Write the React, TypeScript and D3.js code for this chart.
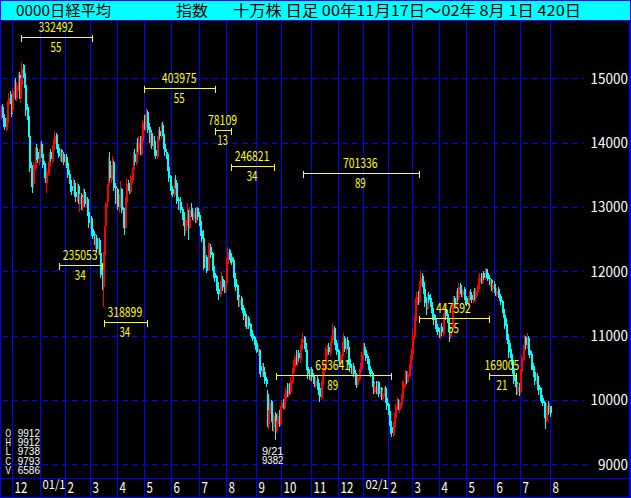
import React from 'react';
import * as d3 from 'd3';

const W = 631;
const H = 498;

// daily candles, 00/11/17 .. 02/08/01 (420 days)
const opens = [
14400,14550,14450,14380,14200,14300,14580,14750,14620,14500,
14780,14920,14700,14880,15050,14700,14900,15200,15080,14900,
14550,14420,14100,13650,13450,13350,13600,13900,13850,13700,
13820,13980,13820,13680,13520,13380,13520,13620,13850,13720,
13880,13980,14120,13980,13920,13780,13880,13720,13820,13680,
13780,13680,13520,13420,13330,13220,13380,13230,13120,13320,
13050,13180,12980,13080,13230,13020,13120,12920,12700,12830,
12650,12580,12400,12520,12320,12480,12280,12000,11750,12250,
12700,13080,13320,13720,13420,13580,13700,13320,13100,13280,
12980,13120,13280,12980,12720,12680,13080,13380,13320,13230,
13420,13580,13820,13680,13980,13880,14050,13820,14020,14350,
14220,14380,14480,14250,14020,14150,13930,14030,13880,13780,
14020,14180,14080,14280,14130,13980,13860,13820,13620,13480,
13330,13280,13180,13420,13380,13120,12980,13080,12970,12920,
12780,12620,12780,12920,12680,12980,12920,12830,12930,12780,
12980,12880,12780,12630,12520,12280,12080,12230,12020,12320,
12380,12280,12080,11980,11930,11830,11730,11630,11780,11880,
11780,11680,11820,12120,12330,12270,12230,12180,11980,11880,
11780,11630,11480,11580,11480,11430,11330,11230,11120,11280,
11180,11080,11030,10980,10930,10880,10720,10780,10530,10420,
10520,10430,10330,10100,9620,9780,9980,9720,9580,9780,
9520,9620,9780,9630,9870,9980,9880,10020,10180,10080,
10230,10120,10280,10430,10520,10680,10580,10730,10620,10780,
10880,10980,10880,10780,10520,10430,10320,10480,10380,10330,
10220,10330,10230,10180,10030,10230,10380,10480,10680,10730,
10830,10720,10880,10930,11120,10930,10880,10780,10680,10580,
10680,10830,10970,10780,10930,10830,10630,10530,10430,10530,
10420,10330,10230,10330,10430,10480,10680,10830,10780,10680,
10630,10530,10480,10420,10280,10130,10230,10120,10280,10080,
10180,10020,10080,10180,10030,9930,9830,9680,9580,9450,
9580,9720,9880,9980,9850,9920,10020,10180,10230,10380,
10280,10380,10480,10620,10720,10980,11230,11480,11630,11530,
11780,11930,11830,11720,11530,11420,11630,11580,11520,11430,
11330,11280,11180,11130,11080,10980,11130,11030,11280,11420,
11330,11280,11130,10980,11080,11430,11580,11480,11680,11580,
11780,11720,11630,11730,11620,11580,11480,11560,11680,11630,
11520,11680,11580,11680,11720,11830,11930,11830,11980,11880,
12030,11970,11900,11800,11870,11720,11800,11720,11630,11720,
11650,11620,11540,11420,11320,11180,11020,10930,10780,10720,
10620,10480,10330,10280,10120,10230,10120,10430,10620,10780,
10980,10830,10970,10780,10720,10580,10530,10430,10280,10380,
10230,10180,10080,10030,9970,9780,9680,9920,9830,9912,
];

const highs = [
14580,14600,14500,14430,14400,14650,14770,14800,14680,14850,
14980,15000,14950,15080,15100,15000,15260,15230,15150,14950,
14600,14460,14150,13700,13500,13700,13930,13980,13920,13900,
14000,14020,13860,13720,13570,13600,13700,13850,13900,13950,
14060,14180,14150,14000,13960,13900,13900,13850,13860,13800,
13820,13700,13570,13450,13380,13450,13420,13280,13390,13350,
13200,13220,13150,13300,13280,13150,13150,12960,12830,12860,
12700,12620,12560,12560,12500,12520,12300,12070,12300,12700,
13080,13350,13780,13850,13650,13800,13720,13380,13300,13300,
13200,13400,13300,13000,12800,13150,13450,13420,13380,13500,
13600,13850,13900,14000,14070,14110,14100,14100,14350,14430,
14450,14540,14500,14300,14170,14200,14100,14100,13950,14100,
14200,14250,14300,14320,14170,14020,13900,13850,13680,13500,
13420,13330,13450,13500,13420,13150,13100,13150,13000,12960,
12820,12850,13060,12950,13000,13060,12980,12950,12980,13000,
13000,12920,12800,12650,12640,12300,12400,12260,12440,12440,
12420,12300,12100,12000,11950,11910,11780,11850,11990,11920,
11860,11850,12200,12380,12350,12300,12280,12200,12020,11920,
11800,11680,11600,11620,11520,11450,11380,11260,11300,11300,
11200,11100,11050,10990,10980,10910,10850,10800,10600,10570,
10570,10460,10360,10150,9850,10020,10000,9760,9800,9820,
9680,9800,9840,9900,10000,10020,10100,10200,10260,10250,
10260,10350,10500,10620,10700,10780,10750,10780,10850,10950,
11040,11000,10980,10820,10560,10480,10510,10510,10420,10390,
10350,10380,10280,10260,10300,10450,10550,10820,10800,10850,
10880,10900,11000,11180,11150,10980,10920,10800,10720,10750,
10900,11040,11000,10950,10980,10880,10680,10560,10550,10570,
10460,10380,10400,10480,10570,10750,10880,10880,10800,10720,
10650,10570,10520,10450,10310,10260,10300,10300,10300,10200,
10200,10150,10200,10210,10060,9960,9850,9720,9620,9650,
9800,9940,10050,10020,10000,10100,10300,10300,10460,10450,
10450,10560,10700,10800,11100,11300,11590,11680,11700,11850,
12020,11980,11880,11760,11600,11640,11680,11650,11560,11450,
11370,11320,11220,11180,11120,11150,11200,11350,11500,11450,
11400,11300,11160,11100,11480,11620,11620,11700,11740,11820,
11820,11760,11730,11760,11650,11600,11620,11700,11720,11680,
11700,11740,11740,11790,11900,11970,11970,11970,12000,12050,
12040,12000,11950,11880,11880,11820,11850,11760,11740,11760,
11680,11650,11560,11470,11350,11270,11050,10950,10890,10800,
10650,10500,10390,10320,10250,10260,10480,10700,10850,11010,
11000,11040,11000,10820,10760,10620,10560,10460,10400,10420,
10280,10200,10120,10060,9990,9800,9950,9990,9950,9912,
];

const lows = [
14350,14380,14250,14190,14180,14280,14550,14600,14400,14460,
14700,14660,14650,14800,14680,14620,14880,15000,14850,14420,
14350,14090,13550,13310,13220,13300,13580,13730,13680,13650,
13780,13760,13600,13450,13370,13220,13480,13600,13700,13680,
13840,13950,13900,13840,13760,13720,13700,13680,13650,13630,
13600,13450,13350,13230,13180,13180,13150,13070,13080,13050,
12920,12950,12930,13050,13000,12980,12860,12670,12650,12550,
12500,12410,12350,12300,12250,12250,11900,11710,11450,12140,
12650,13000,13290,13400,13380,13520,13250,13050,13050,12950,
12900,13080,12900,12680,12560,12650,13070,13250,13200,13200,
13380,13550,13650,13650,13850,13820,13810,13800,13990,14200,
14180,14350,14150,14000,13930,13900,13880,13800,13750,13750,
14000,14050,14050,14100,13900,13800,13750,13560,13390,13250,
13180,13150,13150,13300,13050,12950,12950,12900,12800,12700,
12550,12580,12700,12490,12650,12850,12800,12780,12750,12750,
12800,12700,12550,12450,12020,12050,12050,11970,12000,12220,
12200,12000,11900,11830,11700,11650,11550,11600,11750,11700,
11660,11660,11800,12070,12180,12130,12100,11900,11760,11700,
11550,11450,11450,11400,11350,11250,11130,11100,11100,11100,
11000,10960,10920,10850,10780,10730,10680,10400,10360,10360,
10350,10250,10200,9580,9550,9720,9650,9520,9500,9382,
9480,9560,9580,9600,9820,9860,9850,9990,10050,10050,
10100,10080,10250,10400,10480,10550,10510,10600,10580,10750,
10820,10800,10750,10470,10320,10310,10280,10300,10250,10200,
10190,10150,10080,9970,10000,10200,10320,10450,10660,10700,
10700,10680,10820,10900,10850,10770,10700,10600,10550,10540,
10620,10800,10750,10720,10800,10550,10440,10400,10390,10360,
10240,10190,10200,10300,10380,10450,10620,10700,10600,10560,
10460,10410,10350,10200,10100,10100,10100,10080,10050,10040,
10000,9990,10050,9960,9850,9760,9600,9470,9420,9430,
9550,9700,9850,9850,9800,9880,9990,10150,10200,10250,
10260,10350,10450,10580,10700,10930,11200,11450,11480,11500,
11740,11750,11650,11450,11320,11400,11500,11450,11350,11250,
11170,11100,11050,11010,10960,10950,11000,11000,11250,11250,
11200,11050,10900,10950,11050,11400,11460,11450,11520,11550,
11650,11600,11580,11560,11480,11460,11460,11520,11550,11500,
11500,11560,11540,11620,11680,11800,11800,11800,11870,11860,
11900,11850,11780,11760,11700,11660,11660,11620,11600,11580,
11540,11480,11350,11270,11100,10930,10870,10650,10650,10550,
10400,10250,10200,10080,10080,10060,10100,10400,10600,10700,
10800,10800,10700,10650,10460,10460,10360,10230,10250,10150,
10080,9990,9960,9900,9720,9550,9650,9760,9800,9738,
];

const closes = [
14500,14420,14300,14250,14350,14600,14700,14650,14450,14800,
14900,14750,14900,15000,14750,14950,15150,15050,14950,14500,
14400,14150,13600,13400,13300,13650,13850,13800,13750,13850,
13950,13800,13650,13500,13400,13550,13650,13800,13750,13900,
14000,14100,13950,13900,13800,13850,13750,13800,13700,13750,
13650,13500,13400,13300,13250,13350,13200,13150,13300,13100,
13150,13000,13100,13200,13050,13100,12900,12750,12800,12600,
12550,12450,12500,12350,12450,12300,11950,11800,12250,12650,
13050,13300,13700,13450,13600,13750,13300,13150,13250,13000,
13150,13300,12950,12700,12650,13100,13350,13300,13250,13450,
13550,13800,13700,13950,13900,14000,13850,14050,14300,14250,
14400,14500,14200,14050,14100,13950,14000,13850,13800,14050,
14150,14100,14250,14150,13950,13850,13800,13600,13450,13300,
13250,13200,13400,13350,13100,13000,13050,12950,12900,12750,
12650,12800,12900,12700,12950,12900,12850,12900,12800,12950,
12850,12750,12600,12500,12250,12100,12200,12000,12300,12350,
12250,12050,11950,11900,11800,11700,11650,11800,11850,11750,
11700,11800,12150,12300,12250,12200,12150,11950,11850,11750,
11600,11500,11550,11450,11400,11300,11200,11150,11250,11150,
11050,11000,10950,10900,10850,10750,10800,10500,10450,10500,
10400,10300,10250,9650,9800,9950,9700,9600,9750,9550,
9600,9750,9650,9850,9950,9900,10050,10150,10100,10200,
10150,10300,10450,10550,10650,10600,10700,10650,10800,10900,
10950,10850,10800,10500,10400,10350,10450,10350,10300,10250,
10300,10200,10150,10050,10250,10400,10500,10700,10750,10800,
10750,10850,10950,11100,10900,10850,10750,10650,10600,10700,
10850,10950,10800,10900,10850,10600,10500,10450,10500,10400,
10300,10250,10350,10450,10500,10700,10800,10750,10650,10600,
10500,10450,10400,10250,10150,10200,10150,10250,10100,10150,
10050,10100,10150,10000,9900,9800,9650,9550,9480,9600,
9750,9900,9950,9880,9950,10050,10200,10250,10350,10300,
10400,10500,10650,10750,11000,11250,11500,11600,11550,11800,
11900,11800,11700,11500,11450,11600,11550,11500,11400,11300,
11250,11150,11100,11050,11000,11100,11050,11300,11400,11300,
11250,11100,11000,11050,11450,11550,11500,11650,11600,11750,
11700,11650,11700,11600,11550,11500,11580,11650,11600,11550,
11650,11600,11700,11750,11850,11900,11850,11950,11900,12000,
11950,11880,11820,11850,11750,11780,11700,11650,11700,11620,
11600,11520,11400,11300,11150,11000,10900,10750,10700,10600,
10450,10300,10250,10150,10200,10100,10450,10650,10800,10950,
10850,10950,10750,10700,10550,10500,10400,10300,10350,10200,
10150,10050,10000,9950,9800,9700,9900,9850,9910,9793,
];

const lastVolume = 6586;
const lowDateLabel = '9/21';
const ohlcKeys = ['O', 'H', 'L', 'C', 'V'];

const priceTicks = [15000, 14000, 13000, 12000, 11000, 10000, 9000];
const monthStarts = [9, 30, 49, 68, 89, 109, 130, 151, 172, 195, 214, 237, 257, 276, 295, 314, 334, 355, 376, 396, 419];
const monthLabels = ['12', '01/1', '2', '3', '4', '5', '6', '7', '8', '9', '10', '11', '12', '02/1', '2', '3', '4', '5', '6', '7', '8'];

// Fibonacci time spans: start day, length in days, price level, summed volume
const spanStarts = [16, 45, 79, 110, 164, 176, 210, 231, 319, 373];
const spanDays = [55, 34, 34, 55, 13, 34, 89, 89, 55, 21];
const spanLevels = [15640, 12100, 11210, 14845, 14195, 13635, 10385, 13525, 11270, 10390];
const spanVolumes = [332492, 235053, 318899, 403975, 78109, 246821, 653641, 701336, 447592, 169005];

const titleParts = ['0000日経平均', '指数', '十万株 日足 00年11月17日～02年 8月 1日 420日'];

const BLUE = '#0000FF';
const CYAN = '#00FFFF';
const RED = '#FF0000';
const YELLOW = '#FFFF00';
const FONT = "'Noto Sans CJK JP', 'DejaVu Sans', sans-serif";
const SMALL = "'Liberation Sans', 'DejaVu Sans', sans-serif";

function T(props: { x: number; y: number; s: string; size: number; w?: number; anchor?: string; fill: string; family?: string }) {
  const { x, y, s, size, w, anchor, fill, family } = props;
  return (
    <text
      x={x}
      y={y}
      fontSize={size}
      fontFamily={family || FONT}
      fill={fill}
      textAnchor={anchor || 'start'}
      textLength={w}
      lengthAdjust={w ? 'spacingAndGlyphs' : undefined}
    >
      {s}
    </text>
  );
}

export default function App() {
  const n = closes.length;
  const x = d3.scaleLinear().domain([0, n - 1]).range([0.5, 550.2]);
  const y = d3.scaleLinear().domain([9000, 15000]).range([464.3, 78.3]);

  const last = n - 1;
  const minIdx = d3.minIndex(lows);
  const ohlcVals = [opens[last], highs[last], lows[last], closes[last], lastVolume];

  const labelLeft = (s: string) => 628 - s.length * 7.5;

  return (
    <svg
      width={W}
      height={H}
      style={{ position: 'absolute', left: 0, top: 0, display: 'block' }}
      shapeRendering="crispEdges"
    >
      <rect x={0} y={0} width={W} height={H} fill="#000" />

      {/* horizontal dashed grid */}
      {priceTicks.map((p) => (
        <line
          key={'g' + p}
          x1={2}
          x2={labelLeft(String(p)) - 7}
          y1={Math.round(y(p)) + 0.5}
          y2={Math.round(y(p)) + 0.5}
          stroke={BLUE}
          strokeWidth={1}
          strokeDasharray="6,4"
        />
      ))}

      {/* month lines */}
      {monthStarts.map((m, k) => (
        <line
          key={'m' + k}
          x1={Math.round(x(m)) + 0.5}
          x2={Math.round(x(m)) + 0.5}
          y1={20}
          y2={H}
          stroke={BLUE}
          strokeWidth={1.5}
        />
      ))}

      {/* candles */}
      {closes.map((c, i) => {
        const o = opens[i];
        const up = c >= o;
        const col = up ? RED : CYAN;
        const cx = Math.round(x(i));
        const top = y(Math.max(o, c));
        const bot = y(Math.min(o, c));
        return (
          <g key={'c' + i}>
            <line x1={cx + 0.5} x2={cx + 0.5} y1={y(highs[i])} y2={y(lows[i])} stroke={col} strokeWidth={1} />
            <rect x={cx - 0.5} y={top} width={2.4} height={Math.max(1, bot - top)} fill={col} />
          </g>
        );
      })}

      {/* Fibonacci span annotations */}
      {spanStarts.map((s, k) => {
        const x1 = x(s);
        const x2 = x(s + spanDays[k] - 1);
        const ly = Math.round(y(spanLevels[k])) + 0.5;
        const mid = (x1 + x2) / 2;
        const vs = String(spanVolumes[k]);
        const ds = String(spanDays[k]);
        return (
          <g key={'s' + k}>
            <line x1={x1} x2={x2} y1={ly} y2={ly} stroke={YELLOW} strokeWidth={1} />
            <line x1={x1} x2={x1} y1={ly - 3} y2={ly + 4} stroke={YELLOW} strokeWidth={1} />
            <line x1={x2} x2={x2} y1={ly - 3} y2={ly + 4} stroke={YELLOW} strokeWidth={1} />
            <T x={mid - 1} y={ly - 5.5} s={vs} size={14} w={vs.length * 5.8} anchor="middle" fill={YELLOW} />
            <T x={mid - 1} y={ly + 14.5} s={ds} size={14} w={ds.length * 5.4} anchor="middle" fill={YELLOW} />
          </g>
        );
      })}

      {/* price labels */}
      {priceTicks.map((p) => (
        <T key={'p' + p} x={628} y={y(p) + 5.5} s={String(p)} size={14.5} w={String(p).length * 7.5} anchor="end" fill="#fff" />
      ))}

      {/* axis line and frame */}
      <line x1={0} x2={W} y1={478.5} y2={478.5} stroke={BLUE} strokeWidth={1.5} />
      <rect x={0.5} y={0.5} width={W - 1.5} height={H - 1} fill="none" stroke={BLUE} strokeWidth={1.5} />

      {/* month labels */}
      {monthStarts.map((m, k) => {
        const lbl = monthLabels[k];
        const lx = Math.round(x(m)) + 2.5;
        if (lbl.includes('/')) {
          return <T key={'l' + k} x={lx} y={488.5} s={lbl} size={12} w={23} fill="#fff" />;
        }
        return <T key={'l' + k} x={lx} y={492.5} s={lbl} size={15.5} w={lbl.length * 6.4} fill="#fff" />;
      })}

      {/* OHLCV of last day: one text block */}
      <text fontSize={11.5} fontFamily={SMALL} fill="#fff">
        {ohlcKeys.map((key, k) => (
          <React.Fragment key={'o' + k}>
            <tspan x={5.5} y={436.7 + k * 9.3} textLength={5.5} lengthAdjust="spacingAndGlyphs">{key}</tspan>
            <tspan x={17.7} y={436.7 + k * 9.3} textLength={22.3} lengthAdjust="spacingAndGlyphs">{String(ohlcVals[k])}</tspan>
          </React.Fragment>
        ))}
      </text>

      {/* lowest low marker: one text block */}
      <text fontSize={11.5} fontFamily={SMALL} fill="#fff" textAnchor="middle">
        <tspan x={x(minIdx) - 2} y={455} textLength={21.6} lengthAdjust="spacingAndGlyphs">{lowDateLabel}</tspan>
        <tspan x={x(minIdx) - 2} y={464.3} textLength={21.6} lengthAdjust="spacingAndGlyphs">{String(lows[minIdx])}</tspan>
      </text>

      {/* title bar */}
      <rect x={0.5} y={0.5} width={W - 1.5} height={19.5} fill={CYAN} stroke={BLUE} strokeWidth={1} />
      <line x1={0} x2={W} y1={20.5} y2={20.5} stroke={BLUE} strokeWidth={1.5} />
      <T x={16} y={16} s={titleParts[0]} size={15} w={95} fill="#000" />
      <T x={176} y={16} s={titleParts[1]} size={15} w={32} fill="#000" />
      <T x={233} y={16} s={titleParts[2]} size={15} w={348} fill="#000" />
    </svg>
  );
}
